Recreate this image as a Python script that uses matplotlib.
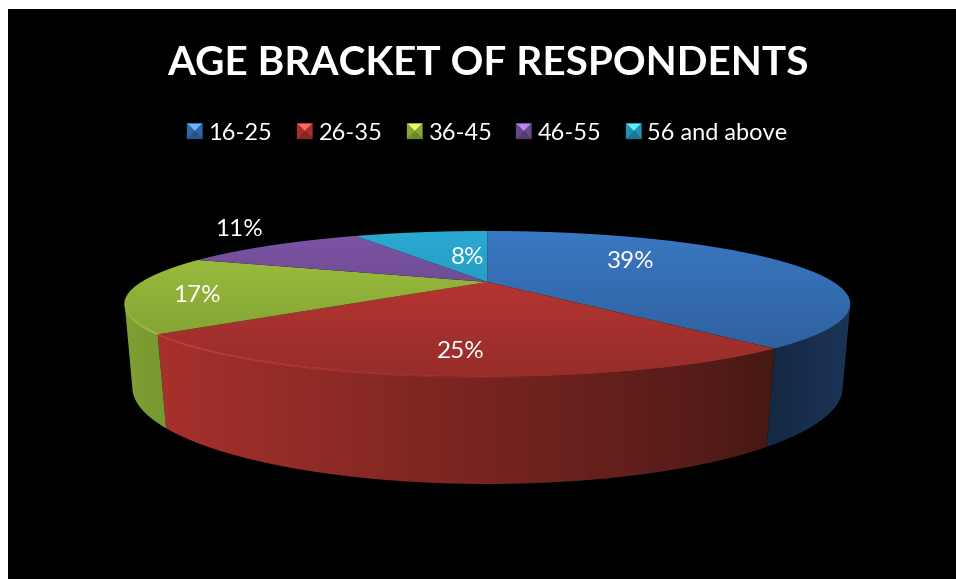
#!/usr/bin/env python

# 3D style pie of respondent age brackets on a black slide
import numpy as np
import matplotlib
matplotlib.use("Agg")
import matplotlib.pyplot as plt
from matplotlib.path import Path
from matplotlib.patches import PathPatch, Polygon, Rectangle
from matplotlib.collections import LineCollection

plt.rcParams['font.family'] = ['Lato', 'DejaVu Sans']

# data
title = "AGE BRACKET OF RESPONDENTS"
brackets = ["16-25", "26-35", "36-45", "46-55", "56 and above"]
percents = [39, 25, 17, 11, 8]

# colours per slice: top face at far edge, top face at near edge
top_far = [(58, 120, 195), (196, 56, 52), (160, 195, 62), (124, 84, 165), (42, 170, 210)]
top_near = [(44, 92, 150), (150, 45, 42), (122, 152, 50), (92, 62, 122), (34, 135, 165)]
# wall colours left to right
wall_stops_x = [125, 170, 487, 700, 770, 845]
wall_colors = {
    0: [(24, 44, 74), (24, 44, 74), (24, 44, 74), (24, 44, 74), (21, 40, 68), (27, 52, 86)],
    1: [(165, 48, 44), (165, 48, 44), (118, 36, 32), (86, 28, 24), (72, 24, 20), (72, 24, 20)],
    2: [(128, 160, 52), (118, 150, 48), (118, 150, 48), (118, 150, 48), (118, 150, 48), (118, 150, 48)],
}
legend_pos = [187, 297, 407, 516, 626]
label_pos = [(631, 262), (461, 352), (197, 296), (239, 230), (468, 258)]


def project(theta, cx, cy, a, b, k):
    """Perspective view of the unit circle, theta in degrees clockwise from 12 o'clock."""
    t = np.radians(theta)
    d = 1 + k * np.cos(t)
    return cx + a * np.sin(t) / d, cy - b * np.cos(t) / d


def top_rim(theta):
    return project(theta, 487.5, 282, 346, 66.4, 0.301)


def bottom_rim(theta):
    return project(theta, 487.5, 358.8, 340, 88.9, 0.29)


def rgb(c):
    return np.array(c, dtype=float) / 255


def clipped_gradient(ax, img, verts, zorder):
    patch = PathPatch(Path(verts, closed=False), fc='none', ec='none', zorder=zorder)
    ax.add_patch(patch)
    im = ax.imshow(img, extent=(0, 956, 579, 0), aspect='auto', interpolation='bilinear', zorder=zorder)
    im.set_clip_path(patch)


fig = plt.figure(figsize=(9.56, 5.79), dpi=100, facecolor='white')
ax = fig.add_axes([0, 0, 1, 1])
ax.set_xlim(0, 956)
ax.set_ylim(579, 0)
ax.axis('off')
ax.add_patch(Rectangle((8, 9), 948, 570, fc='black', ec='none', zorder=0))

# slice boundaries going clockwise from the top
edges = np.concatenate([[0], np.cumsum(percents)]) * 3.6
silhouette_r = np.degrees(np.arccos(-0.30))
silhouette_l = 360 - silhouette_r

yy = np.arange(579)[:, None]
xx = np.arange(956)[None, :]

# outer walls, only the near side can be seen
for i, stops in wall_colors.items():
    start = max(edges[i], silhouette_r)
    end = min(edges[i + 1], silhouette_l)
    th = np.linspace(start, end, 200)
    tx, ty = top_rim(th)
    bx, by = bottom_rim(th)
    verts = np.column_stack([np.r_[tx, bx[::-1], tx[0]], np.r_[ty, by[::-1], ty[0]]])
    stops = np.array(stops, dtype=float) / 255
    img = np.stack([np.interp(xx[0], wall_stops_x, stops[:, c]) for c in range(3)], axis=-1)[None, :, :]
    clipped_gradient(ax, img, verts, 2)

# top faces
apex = top_rim(0.0)
apex = (apex[0], 282)
for i in range(len(percents)):
    th = np.linspace(edges[i], edges[i + 1], 200)
    tx, ty = top_rim(th)
    verts = np.column_stack([np.r_[apex[0], tx, apex[0]], np.r_[apex[1], ty, apex[1]]])
    f = np.clip((yy - 231) / (377 - 231), 0, 1)
    img = (rgb(top_far[i]) * (1 - f) + rgb(top_near[i]) * f)[:, None, :]
    clipped_gradient(ax, img, verts, 3)

    # bevel highlight along the rim, strongest on the left and fading to the right
    pts = np.column_stack([tx, ty])
    segs = np.stack([pts[:-1], pts[1:]], axis=1)
    strength = np.clip((620 - tx[:-1]) / 460, 0, 1) * np.clip((ty[:-1] - 270) / 60, 0, 1)
    cols = np.zeros((len(segs), 4))
    cols[:, :3] = np.minimum(rgb(top_far[i]) * 1.1 + 0.08, 1)
    cols[:, 3] = strength * 0.55
    ax.add_collection(LineCollection(segs, colors=cols, linewidths=1.3, zorder=4))

# percentage labels
for v, (x, y) in zip(percents, label_pos):
    ax.text(x, y, f"{v}%", color='white', fontsize=17.5, ha='center', va='center', zorder=6)

ax.text(487.5, 75, title, color='white', fontsize=29.2, fontweight='bold', ha='center', va='baseline', zorder=6)

# legend with small pyramid shaped keys
for i, name in enumerate(brackets):
    x0 = legend_pos[i]
    y0 = 123.5
    s = 15.5
    base = rgb(top_far[i])
    c = (x0 + s / 2, y0 + s * 0.5)
    corners = [(x0, y0), (x0 + s, y0), (x0 + s, y0 + s), (x0, y0 + s)]
    shades = [np.minimum(base * 1.2 + 0.14, 1), base * 0.85, base * 0.7, base * 0.85]
    for j in range(4):
        ax.add_patch(Polygon([corners[j], corners[(j + 1) % 4], c], closed=True, fc=shades[j],
                             ec=shades[j], lw=0.2, zorder=5))
    ax.text(x0 + 21.5, 133.5, name, color='white', fontsize=17, ha='left', va='center', zorder=6)

plt.savefig("out.png", dpi=100, facecolor=fig.get_facecolor())
